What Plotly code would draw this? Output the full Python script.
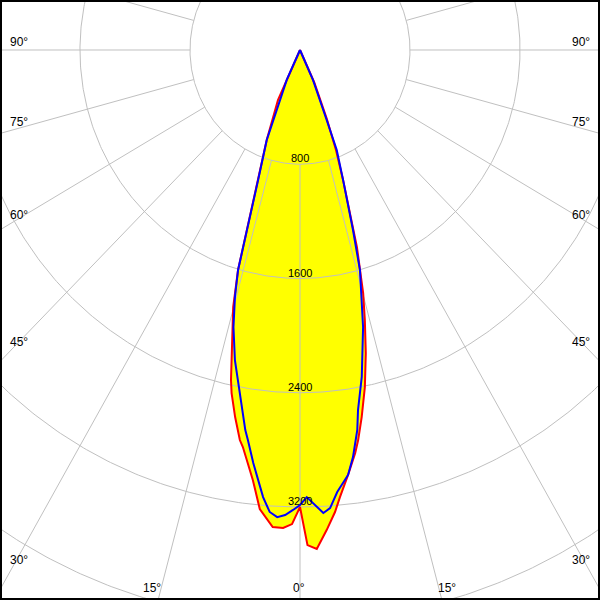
import numpy as np
import plotly.graph_objects as go

# ---- data (gamma in degrees from nadir, intensity in cd) ----
gamma_red = [-90, -60, -30, -24.6, -21, -18.5, -17, -16.3, -15.1, -13.4, -12.25, -11.7, -10.4,
             -9.1, -8.5, -6.5, -5.2, -3.4, -2.1, -1.0, 0, 0.9, 2.0, 3.3, 4.5, 5.3, 6.7, 8.1, 8.8,
             9.9, 11.3, 12.7, 14.0, 15.1, 16.7, 19.0, 20.5, 22.0, 24.5, 30, 60, 90]
cd_red = [0, 0, 0, 385, 675, 960, 1318, 1605, 1865, 2138, 2365, 2453, 2613,
          2766, 2811, 3030, 3227, 3346, 3349, 3320, 3200, 3467, 3496, 3367, 3245, 3144, 2996, 2850, 2764,
          2609, 2407, 2176, 1949, 1763, 1441, 962, 749, 520, 250, 0, 0, 0]

gamma_blue = [-90, -60, -30, -24.7, -21.9, -21, -18.5, -17, -16.3, -15.3, -14.0, -12.3, -10.3,
              -8.5, -7.9, -6.7, -4.9, -3.9, -2.9, -1.9, -0.9, 0, 0.9, 2.0, 3.0, 3.9, 5.0, 6.7, 7.7,
              8.9, 9.5, 11.1, 13.3, 15.8, 17.0, 19.0, 20.9, 21.6, 24.2, 30, 60, 90]
cd_blue = [0, 0, 0, 231, 453, 675, 960, 1318, 1605, 1793, 2000, 2222, 2441,
           2691, 2757, 2912, 3142, 3242, 3275, 3258, 3221, 3186, 3131, 3188, 3246, 3215, 3107, 2996, 2876,
           2693, 2556, 2333, 1994, 1601, 1318, 962, 749, 527, 230, 0, 0, 0]

ring_values = [800, 1600, 2400, 3200, 4000, 4800]
ring_labels = ["800", "1600", "2400", "3200"]
spoke_angles = list(range(0, 360, 15))
side_labels = ["90°", "75°", "60°", "45°", "30°"]
bottom_labels = ["15°", "0°", "15°"]

GRID = "#C0C0C0"
FONT = dict(family="Liberation Sans, Arial, sans-serif", size=11, color="black")
FONT_ANG = dict(family="Liberation Sans, Arial, sans-serif", size=12, color="black")


def to_xy(g, r):
    g = np.radians(np.asarray(g, dtype=float))
    r = np.asarray(r, dtype=float)
    return r * np.sin(g), -r * np.cos(g)


fig = go.Figure()

# yellow fill of the red curve
xr, yr = to_xy(gamma_red, cd_red)
fig.add_trace(go.Scatter(x=xr, y=yr, mode="lines", fill="toself", fillcolor="#FFFF00",
                         line=dict(width=0, color="#FFFF00"), hoverinfo="skip", showlegend=False))

# grid circles
t = np.linspace(0, 360, 721)
for rv in ring_values:
    cx, cy = to_xy(t, np.full_like(t, rv))
    fig.add_trace(go.Scatter(x=cx, y=cy, mode="lines", line=dict(color=GRID, width=1),
                             hoverinfo="skip", showlegend=False))

# spokes (from the first ring outward)
sx, sy = [], []
for a in spoke_angles:
    px, py = to_xy([a, a], [ring_values[0], 8000])
    sx += list(px) + [None]
    sy += list(py) + [None]
fig.add_trace(go.Scatter(x=sx, y=sy, mode="lines", line=dict(color=GRID, width=1),
                         hoverinfo="skip", showlegend=False))

# curves
fig.add_trace(go.Scatter(x=xr, y=yr, mode="lines", line=dict(color="#FF0000", width=2),
                         hoverinfo="skip", showlegend=False))
xb, yb = to_xy(gamma_blue, cd_blue)
fig.add_trace(go.Scatter(x=xb, y=yb, mode="lines", line=dict(color="#0000FF", width=2),
                         hoverinfo="skip", showlegend=False))

annotations = []
for rv, lab in zip(ring_values, ring_labels):
    annotations.append(dict(x=0, y=-rv, xref="x", yref="y", text=lab, showarrow=False,
                            xanchor="center", yanchor="bottom", yshift=-2, font=FONT))


def paper(px, py):
    return (px - 2) / 596.0, 1 - (py - 2) / 596.0


side_y = [42, 122, 215, 342, 560]
for lab, py in zip(side_labels, side_y):
    x0, y0 = paper(8, py)
    annotations.append(dict(x=x0, y=y0, xref="paper", yref="paper", text=lab, showarrow=False,
                            xanchor="left", yanchor="middle", font=FONT_ANG))
    x1, y1 = paper(592, py)
    annotations.append(dict(x=x1, y=y1, xref="paper", yref="paper", text=lab, showarrow=False,
                            xanchor="right", yanchor="middle", font=FONT_ANG))
for lab, px in zip(bottom_labels, [152, 299, 447]):
    x0, y0 = paper(px, 588)
    annotations.append(dict(x=x0, y=y0, xref="paper", yref="paper", text=lab, showarrow=False,
                            xanchor="center", yanchor="middle", font=FONT_ANG))

fig.update_layout(
    width=600, height=600,
    margin=dict(l=2, r=2, t=2, b=2, pad=0),
    paper_bgcolor="black", plot_bgcolor="white",
    xaxis=dict(range=[-2167, 2167], visible=False, showgrid=False, zeroline=False, fixedrange=True),
    yaxis=dict(range=[-3837, 336], visible=False, showgrid=False, zeroline=False, fixedrange=True),
    annotations=annotations,
    showlegend=False,
)

fig.write_html("out.html", config={"displayModeBar": False},
               post_script="document.body.style.margin='0';document.body.style.overflow='hidden';")
